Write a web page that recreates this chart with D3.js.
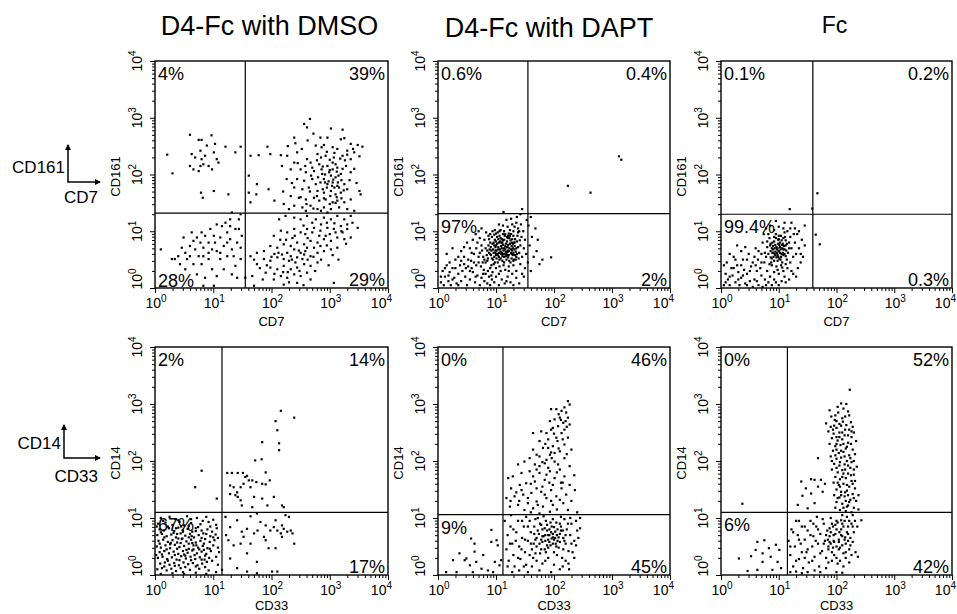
<!DOCTYPE html>
<html>
<head>
<meta charset="utf-8">
<script src="https://cdn.jsdelivr.net/npm/d3@7"></script>
<style>
  body { margin: 0; background: #fff; }
  svg { display: block; font-family: "Liberation Sans", Arial, sans-serif; }
</style>
</head>
<body>
<div id="chart"></div>
<script>
// Column titles and marker labels
const columnTitles = ["D4-Fc with DMSO", "D4-Fc with DAPT", "Fc"];
const rowMarkers = [["CD161", "CD7"], ["CD14", "CD33"]];
const decades = [0, 1, 2, 3, 4];

// Gate positions (in decades) per panel, row-major
const gateX = [1.55, 1.55, 1.59, 1.15, 1.12, 1.15];
const gateY = [1.32, 1.31, 1.30, 1.10, 1.06, 1.10];

// Quadrant percentages: upper-left, upper-right, lower-left, lower-right
const quadrantPct = [
    ["4%", "39%", "28%", "29%"],
    ["0.6%", "0.4%", "97%", "2%"],
    ["0.1%", "0.2%", "99.4%", "0.3%"],
    ["2%", "14%", "67%", "17%"],
    ["0%", "46%", "9%", "45%"],
    ["0%", "52%", "6%", "42%"]
];

// Events as "x,y" pairs, log10 units
const eventsDmsoCd7 = `
0.60,2.70 0.75,2.61 0.80,2.61 0.97,2.69 0.21,2.35 0.30,2.02 0.63,2.36 0.69,2.30 0.80,2.27 0.86,2.33 1.01,2.39 1.06,2.27 1.09,2.21 1.21,2.49 1.47,2.49
1.38,2.39 0.60,2.15 0.66,2.09 0.78,2.15 0.83,2.18 0.92,2.15 0.98,2.09 0.75,2.06 0.79,1.68 0.82,1.59 1.01,1.71 1.26,1.65 1.03,2.54 0.89,2.51 0.78,2.42
1.64,2.33 1.78,2.34 1.61,1.98 1.75,1.83 1.61,1.68 1.74,1.65 1.64,1.51 1.93,2.49 1.98,2.36 2.16,2.34 2.18,2.15 2.05,1.54 1.95,1.74 2.27,2.33 2.33,2.09
2.26,1.92 2.39,2.21 2.44,2.39 2.39,2.65 2.41,2.55 2.56,2.89 2.66,2.98 2.61,2.83 3.02,2.81 3.22,2.79 2.84,2.65 2.96,2.65 3.19,2.62 3.25,2.64 3.36,2.54
3.48,2.52 3.56,2.49 2.76,2.51 2.90,2.52 3.05,2.48 3.13,2.45 3.30,2.42 3.42,2.39 2.79,2.36 2.93,2.33 3.07,2.30 3.22,2.33 3.36,2.27 3.51,2.32 2.61,2.27
2.67,2.21 2.82,2.18 2.96,2.15 3.05,2.09 3.13,2.12 3.28,2.15 2.50,2.09 2.59,2.04 2.73,2.06 2.87,2.01 3.02,1.98 3.10,1.95 3.19,2.01 3.36,2.04 2.44,1.92
2.56,1.89 2.70,1.92 2.84,1.86 2.96,1.83 3.05,1.86 3.13,1.80 3.25,1.83 3.30,1.74 2.39,1.77 2.53,1.74 2.64,1.77 2.79,1.71 2.90,1.68 3.02,1.71 3.10,1.65
3.19,1.68 3.51,1.71 3.53,1.65 2.33,1.62 2.47,1.59 2.59,1.56 2.73,1.59 2.82,1.54 2.93,1.56 3.05,1.51 3.13,1.54 3.25,1.51 3.36,1.56 2.21,1.48 2.39,1.45
2.53,1.42 2.67,1.45 2.79,1.39 2.90,1.42 3.02,1.39 3.16,1.42 3.30,1.39 3.42,1.36 2.30,1.39 2.59,1.36 2.99,2.04 3.06,1.91 2.95,1.77 3.08,1.77 2.90,1.92
3.05,2.21 3.01,1.62 3.16,1.77 2.86,2.09 2.76,1.83 3.00,2.26 3.10,2.18 2.92,2.00 3.15,1.98 2.98,1.88 3.12,1.60 2.88,1.74 3.20,1.90 2.70,2.12 3.26,2.25
2.85,2.30 2.95,2.40 3.08,2.38 3.18,2.28 2.78,2.25 2.88,2.14 3.00,2.08 3.12,2.05 3.22,2.10 2.68,1.98 2.80,1.95 2.92,1.86 3.04,1.80 3.14,1.86 3.24,1.72
2.66,1.70 2.78,1.62 2.90,1.58 3.00,1.48 3.10,1.50 3.20,1.58 2.60,1.48 2.72,1.40 2.85,1.36 2.96,1.33 3.34,1.90 3.42,2.10 3.46,1.85 3.30,2.35 3.40,2.45
2.52,2.45 2.62,2.60 2.72,2.72 2.86,2.48 2.45,2.20 2.35,1.85 2.28,2.50 2.50,1.60 2.58,2.15 2.20,1.70
3.36,1.27 3.48,1.06 3.39,1.15 3.25,1.21 3.13,1.27 3.02,1.21 2.90,1.24 2.76,1.21 2.61,1.27 2.50,1.21 2.39,1.24 2.24,1.27 2.13,1.21 3.30,1.04 3.19,1.09
3.07,1.04 2.96,1.06 2.84,1.01 2.73,1.06 2.61,1.04 2.50,0.98 2.39,1.04 2.27,0.98 2.16,1.01 2.04,0.92 3.36,0.89 3.25,0.86 3.13,0.89 3.02,0.83 2.90,0.86
2.79,0.80 2.67,0.83 2.56,0.77 2.44,0.80 2.33,0.74 2.21,0.77 2.10,0.71 1.98,0.74 1.87,0.65 1.75,0.62 1.64,0.56 3.13,0.71 3.02,0.68 2.90,0.65 2.79,0.62
2.67,0.56 2.56,0.59 2.44,0.54 2.33,0.56 2.21,0.51 2.10,0.54 1.98,0.48 1.87,0.51 1.75,0.42 2.79,0.45 2.67,0.39 2.56,0.42 2.44,0.36 2.33,0.33 2.21,0.39
2.10,0.33 1.98,0.36 1.90,0.27 2.61,0.27 2.50,0.21 2.39,0.24 2.27,0.18 2.16,0.21 2.04,0.15 2.21,0.06 2.44,0.09 2.67,0.15 3.07,0.09 1.67,0.21 1.70,0.04
1.55,0.18 2.50,0.62 2.39,0.68 2.27,0.62 2.61,0.71 2.73,0.71 2.41,0.45 2.53,0.51 2.30,0.48 2.18,0.59 2.84,0.74 2.93,0.92 3.10,0.98 3.22,0.98 3.30,1.12
2.36,0.88 2.47,0.66 2.58,0.95 2.70,0.98 2.15,0.85 2.28,0.28 2.62,0.50 2.85,1.12 3.00,0.95 2.05,0.60
2.55,1.10 2.70,1.15 2.82,0.92 2.95,1.15 3.08,1.14 3.20,1.00 3.28,0.78 2.40,0.92 2.25,0.85 2.12,0.62 2.00,0.55 1.92,0.40 2.35,0.50 2.48,0.30 2.58,0.65
2.72,0.55 2.85,0.50 2.95,0.75 3.05,0.58 2.20,0.28 2.05,0.25 1.85,0.15 2.30,0.10 2.55,0.05 1.80,0.35 1.70,0.50 2.62,0.88 2.75,0.30 2.98,0.40 3.15,0.50
0.10,0.68 0.29,0.51 0.34,0.51 0.49,0.89 0.63,0.98 0.52,0.62 0.60,0.56 0.72,0.89 0.78,0.80 0.83,0.71 0.69,0.68 0.75,0.56 0.86,0.92 0.95,1.04 1.01,0.92
0.92,0.80 0.98,0.68 1.06,1.12 1.15,1.09 1.21,1.15 1.29,1.21 1.38,1.04 1.44,1.21 1.47,1.30 1.32,1.33 1.24,0.98 1.12,0.89 1.29,0.86 1.41,0.80 1.49,0.92
1.18,0.74 1.06,0.65 1.32,0.68 1.47,0.71 1.24,0.56 1.12,0.51 0.92,0.51 0.80,0.42 0.66,0.42 0.52,0.33 0.43,0.42 0.98,0.33 1.18,0.33 1.38,0.39 1.32,0.24
1.06,0.21 0.86,0.18 0.72,0.24 1.01,0.04 0.83,0.04 1.41,0.18 0.60,0.74 0.80,0.98 1.03,0.80 1.24,0.80 0.66,0.83 1.35,0.56 1.47,0.51 1.44,1.04 0.83,0.56
0.55,0.51 0.40,0.56 0.46,0.71 1.29,1.09 1.12,0.62 0.92,0.62`;

const eventsDaptCd7 = `
0.78,0.55 0.82,0.70 0.85,0.48 0.88,0.62 0.90,0.80 0.92,0.40 0.95,0.68 0.97,0.55 1.00,0.75 1.02,0.90 1.03,0.45 1.05,0.62 1.07,0.82 1.08,0.52 1.10,0.70
1.12,0.95 1.13,0.40 1.15,0.60 1.17,0.78 1.18,0.50 1.20,0.88 1.22,0.65 1.24,1.02 1.25,0.45 1.27,0.74 1.29,0.58 1.30,0.92 1.32,0.68 1.34,0.50 1.36,0.82
1.38,1.05 1.40,0.62 1.42,0.75 1.44,0.90 0.80,0.85 0.84,0.58 0.87,0.75 0.93,0.90 0.96,0.42 0.99,0.62 1.01,0.52 1.04,0.72 1.06,1.00 1.09,0.60 1.11,0.48
1.14,0.85 1.16,0.68 1.19,0.58 1.21,0.76 1.23,0.48 1.26,0.95 1.28,0.66 1.31,0.80 1.33,0.58 1.35,0.70 1.37,0.92 1.39,0.52 1.41,0.84 0.72,0.62 0.75,0.75
0.70,0.45 0.74,0.38 0.79,0.32 0.86,0.30 0.94,0.28 1.00,0.35 1.08,0.30 1.16,0.32 1.22,0.38 1.30,0.40 1.35,0.30 1.45,0.55 1.48,0.70 1.50,0.85 1.47,1.00
1.43,1.12 1.35,1.15 1.28,1.12 1.20,1.08 1.12,1.10 1.05,1.12 0.98,1.02 0.90,0.95 0.83,0.98 1.18,1.20 1.26,1.22 1.36,1.25 1.42,1.30 1.13,1.34 1.45,1.39
0.86,0.52 0.89,0.68 0.91,0.58 0.94,0.78 0.96,0.62 0.98,0.85 1.01,0.66 1.03,0.58 1.05,0.80 1.06,0.50 1.08,0.88 1.10,0.62 1.12,0.76 1.14,0.55 1.15,0.92
1.17,0.64 1.19,0.82 1.21,0.54 1.23,0.70 1.25,0.84 1.27,0.60 1.29,0.78 1.31,0.50 1.33,0.86 1.34,0.64 0.92,0.66 0.99,0.72 1.04,0.86 1.09,0.74 1.13,0.66
1.18,0.72 1.22,0.58 1.26,0.68 1.30,0.62 0.95,0.50 1.02,0.60 1.07,0.68 1.11,0.56 1.16,0.74 1.20,0.64 1.24,0.78 1.28,0.86 1.32,0.74 0.88,0.86 0.97,0.94
1.06,0.92 1.14,1.00 1.22,0.96 1.30,1.00 1.38,0.98 0.91,0.72 1.00,0.58 1.09,0.80 1.18,0.62 1.27,0.52 1.36,0.60 1.03,0.98 1.12,0.84 1.21,0.92 0.85,0.66
0.90,0.60 0.93,0.52 0.96,0.80 0.99,0.66 1.02,0.78 1.05,0.55 1.08,0.64 1.11,0.80 1.14,0.70 1.17,0.56 1.20,0.72 1.23,0.88 1.26,0.62 1.29,0.70 1.32,0.80
1.35,0.55 1.38,0.72 0.87,0.92 0.94,1.00 1.00,0.96 1.08,1.02 1.16,0.95 1.24,0.92 1.32,1.08 1.40,1.00 0.82,0.45 0.90,0.35 0.98,0.45 1.06,0.38 1.14,0.45
1.22,0.30 1.30,0.48 1.42,0.42 0.76,0.66 0.80,0.50 0.72,0.88 0.66,0.70 0.62,0.45 0.58,0.62 0.52,0.50 0.48,0.35 0.40,0.48 0.30,0.35 0.20,0.45 0.12,0.35
0.25,0.15 0.35,0.05 0.55,0.30 0.65,0.20 0.78,0.25 0.92,0.22 1.05,0.25 1.18,0.12 1.28,0.25 1.45,0.25 0.05,0.20 0.18,0.22 0.45,0.42 1.00,0.82 1.04,0.68
1.12,0.60 1.19,0.90 1.27,0.80 0.97,0.75 1.10,0.86 1.21,0.66
0.05,0.10 0.08,0.30 0.10,0.05 0.12,0.20 0.15,0.40 0.18,0.12 0.20,0.28 0.22,0.05 0.25,0.35 0.28,0.18 0.30,0.50 0.32,0.08 0.35,0.25 0.38,0.40 0.40,0.12
0.42,0.30 0.45,0.55 0.47,0.20 0.50,0.05 0.52,0.38 0.55,0.15 0.57,0.48 0.60,0.28 0.62,0.60 0.64,0.10 0.66,0.40 0.68,0.22 0.70,0.55 0.72,0.05 0.75,0.18
0.77,0.45 0.80,0.12 0.82,0.25 0.85,0.08 0.88,0.20 0.90,0.05 0.93,0.15 0.97,0.10 1.00,0.20 1.05,0.05 1.10,0.15 1.15,0.08 1.20,0.20 1.25,0.10 1.30,0.05
1.35,0.18 1.40,0.08 0.15,0.60 0.25,0.70 0.40,0.65 0.50,0.80 0.60,0.85 0.55,0.70 0.45,0.72 0.35,0.55 0.65,0.95 0.70,1.00 0.75,1.05 0.68,0.80 0.58,0.35
1.52,0.60 1.55,0.45 1.58,0.75 1.60,0.30 1.62,0.90 1.65,0.55 1.68,1.05 1.70,0.65 1.75,0.42 1.72,0.85 1.80,0.50 1.95,0.54 1.56,1.10 1.60,1.25 1.53,1.20
1.50,0.35 1.48,0.20 2.24,1.80 2.63,1.68 3.12,2.32 3.16,2.26`;

const eventsFcCd7 = `
0.82,0.60 0.85,0.75 0.88,0.52 0.90,0.68 0.92,0.82 0.94,0.58 0.96,0.72 0.98,0.48 1.00,0.65 1.02,0.80 1.04,0.55 1.06,0.70 1.08,0.88 1.10,0.60 1.12,0.75
1.14,0.50 0.86,0.65 0.89,0.80 0.91,0.55 0.93,0.70 0.95,0.88 0.97,0.62 0.99,0.78 1.01,0.52 1.03,0.68 1.05,0.84 1.07,0.62 1.09,0.74 1.11,0.90 1.13,0.66
0.84,0.88 0.87,0.45 0.95,0.95 1.00,0.92 1.06,0.45 1.10,0.98 0.80,0.72 0.78,0.55 1.16,0.62 1.18,0.80 0.98,0.58 1.02,0.72 0.94,0.64 1.05,0.60 0.90,0.74
1.08,0.68 0.99,0.85 0.92,0.48 1.04,0.40 0.96,0.38 0.88,0.40 0.97,0.68 1.01,0.76 0.93,0.60 1.07,0.78 0.89,0.62 1.03,0.50 1.12,0.84 0.86,0.78 0.99,0.55
0.94,0.76 0.98,0.70 1.02,0.62 1.06,0.76 1.10,0.68 0.90,0.62 0.96,0.54 1.00,0.86 1.04,0.92 1.08,0.58 0.92,0.90 0.88,0.70 1.12,0.56 1.14,0.78 0.86,0.54
0.84,0.42 0.98,0.32 1.06,0.36 1.12,0.42 0.80,0.82 0.76,0.62 1.18,0.70 1.20,1.05 1.10,1.15 0.95,1.18 0.82,0.95 0.70,0.45 0.65,0.65 0.60,0.40 0.58,0.55
0.50,0.30 0.45,0.50 0.38,0.22 0.30,0.15 0.22,0.35 0.15,0.20 0.08,0.10 0.25,0.50 0.35,0.40 0.62,0.12 0.78,0.05 0.92,0.15 1.00,0.05 1.10,0.20 1.22,0.30
1.30,0.20 1.38,0.60 1.26,0.95 1.35,1.00 1.45,1.10
0.70,0.60 0.72,0.80 0.75,0.45 0.68,0.35 0.74,0.95 0.78,1.05 0.85,1.10 0.92,1.02 1.00,1.08 1.08,1.05 1.15,1.00 1.20,0.90 1.22,0.70 1.25,0.55 1.20,0.45
1.15,0.35 1.08,0.30 1.00,0.25 0.92,0.28 0.85,0.20 0.80,0.30 0.76,0.15 0.70,0.22 0.64,0.50 0.60,0.70 0.62,0.30 0.55,0.45 0.58,0.15 1.28,0.80 1.30,0.60
1.32,0.95 1.35,0.70 1.28,1.05 1.22,1.15 1.40,0.85 1.42,0.55 1.45,0.75 1.38,0.45 1.33,0.35 1.25,0.25 1.18,0.15 1.12,0.10 1.05,0.12 0.95,0.10 0.88,0.05
0.82,0.10 0.05,0.05 0.08,0.25 0.10,0.45 0.12,0.15 0.15,0.05 0.18,0.35 0.20,0.22 0.22,0.55 0.25,0.10 0.28,0.40 0.30,0.28 0.32,0.05 0.35,0.18 0.38,0.50
0.40,0.32 0.42,0.08 0.45,0.25 0.48,0.60 0.50,0.12 0.52,0.38 0.35,0.65 0.28,0.75 0.42,0.72 0.45,0.05 0.55,0.02 0.65,0.05 0.72,0.02 0.15,0.60 0.05,0.40
1.67,1.67 1.64,0.94 1.71,0.77 1.19,1.39 1.58,1.40`;

const eventsDmsoCd33 = `
0.10,1.00 0.25,1.02 0.35,0.98 0.55,1.03 0.72,1.00 0.88,1.02 1.00,0.97 0.05,0.90 0.18,0.92 0.30,0.88 0.42,0.93 0.50,0.87 0.62,0.91 0.78,0.89 0.92,0.93
1.05,0.88 0.08,0.80 0.15,0.78 0.24,0.82 0.33,0.77 0.40,0.83 0.48,0.79 0.56,0.81 0.64,0.76 0.70,0.82 0.80,0.78 0.90,0.80 0.98,0.76 1.06,0.82 0.04,0.70
0.12,0.72 0.20,0.68 0.28,0.71 0.36,0.66 0.44,0.73 0.52,0.69 0.60,0.72 0.67,0.66 0.75,0.70 0.83,0.73 0.95,0.68 1.04,0.71 0.06,0.60 0.14,0.62 0.22,0.58
0.30,0.61 0.38,0.57 0.46,0.63 0.54,0.59 0.62,0.62 0.70,0.57 0.78,0.60 0.86,0.63 0.94,0.58 1.02,0.61 0.03,0.50 0.10,0.48 0.18,0.52 0.26,0.47 0.34,0.53
0.42,0.49 0.50,0.51 0.58,0.46 0.66,0.52 0.74,0.48 0.82,0.51 0.90,0.47 1.00,0.52 1.08,0.48 0.08,0.40 0.16,0.42 0.24,0.38 0.32,0.41 0.40,0.37 0.48,0.42
0.56,0.39 0.64,0.43 0.72,0.38 0.80,0.41 0.88,0.37 0.96,0.42 0.05,0.30 0.13,0.32 0.21,0.28 0.29,0.31 0.37,0.27 0.45,0.33 0.53,0.29 0.61,0.32 0.69,0.28
0.77,0.31 0.85,0.27 0.93,0.30 1.05,0.32 0.09,0.20 0.17,0.22 0.25,0.18 0.33,0.21 0.41,0.17 0.49,0.22 0.57,0.19 0.65,0.21 0.73,0.17 0.81,0.20 0.89,0.23
1.08,0.18 0.04,0.10 0.12,0.12 0.20,0.08 0.28,0.11 0.36,0.07 0.44,0.12 0.60,0.09 0.76,0.11 0.92,0.08 1.05,0.05 0.10,0.02 0.30,0.03 0.50,0.02 0.70,0.04
0.88,0.02 0.47,0.64 0.58,0.55 0.66,0.45 0.38,0.72 0.52,0.34 0.71,0.52 0.27,0.56 0.84,0.44 0.63,0.68 0.45,0.85
0.14,0.95 0.40,0.96 0.62,0.98 0.82,0.95 0.22,0.85 0.36,0.82 0.58,0.86 0.74,0.84 0.95,0.85 0.10,0.75 0.32,0.74 0.48,0.76 0.70,0.77 0.88,0.72 0.16,0.66
0.40,0.64 0.58,0.66 0.80,0.65 1.00,0.66 0.08,0.55 0.26,0.54 0.44,0.56 0.64,0.56 0.84,0.55 0.20,0.45 0.38,0.46 0.54,0.44 0.76,0.45 0.94,0.46 0.12,0.36
0.34,0.35 0.50,0.36 0.68,0.35 0.86,0.34 0.22,0.25 0.42,0.26 0.62,0.26 0.80,0.27 0.98,0.25 0.16,0.15 0.34,0.16 0.52,0.14 0.70,0.15 0.86,0.14 0.02,0.35
0.03,0.85 1.08,0.65 1.10,0.40 0.48,0.05
0.80,1.83 0.69,1.54 1.06,1.34
2.16,2.88 2.39,2.76 2.07,2.70 2.10,2.54 1.84,2.33 2.13,2.31 2.13,2.19 1.72,2.01 1.83,2.03 1.90,1.80 1.24,1.79 1.32,1.79 1.42,1.79 1.51,1.79 1.58,1.74
1.61,1.66 1.52,1.60 1.67,1.66 1.74,1.63 1.47,1.54 1.35,1.54 1.41,1.45 1.64,1.54 1.84,1.60 1.90,1.59 1.97,1.66 1.38,1.40 1.47,1.31 1.70,1.37 1.84,1.34
2.04,1.37 1.67,1.19 1.93,1.22 2.18,1.22 2.21,1.19 1.29,1.57 1.49,1.22 1.55,1.72 1.42,1.37 1.29,1.42
1.21,1.02 1.29,0.84 1.22,0.70 1.41,0.96 1.49,0.76 1.58,0.81 1.64,1.03 1.70,0.73 1.75,1.08 1.76,0.78 1.87,0.67 1.90,0.87 1.98,0.78 2.04,0.84 2.07,0.96
2.10,0.78 2.16,0.73 2.18,0.87 2.21,0.81 2.24,1.05 2.27,0.76 2.30,1.02 2.33,0.78 2.36,0.73 2.39,0.55 1.26,0.61 1.35,0.52 1.47,0.55 1.58,0.38 1.64,0.55
1.75,0.23 1.90,0.61 1.95,0.47 2.07,0.47 1.29,0.29 1.41,0.12 2.01,0.06 2.10,0.06 1.15,0.09 1.52,0.67 1.81,0.93 2.18,0.67 1.58,0.06 1.75,0.03`;

const eventsDaptCd33 = `
0.26,0.26 0.37,0.38 0.46,0.26 0.49,0.29 0.57,0.64 0.63,0.55 0.63,0.41 0.66,0.23 0.78,0.35 0.86,0.08 0.92,0.79 0.92,0.58 1.01,0.61 1.03,0.52 0.98,0.23
1.09,0.26 1.06,0.17 0.75,0.11 0.55,0.17 0.60,0.05 0.95,0.05 0.14,0.05 0.32,0.05
2.24,3.05 2.27,2.99 2.18,2.94 2.21,2.85 2.13,2.88 2.04,2.91 1.95,2.91 2.10,2.76 2.24,2.76 2.01,2.73 1.93,2.70 2.16,2.67 2.27,2.64 2.07,2.61 1.95,2.55
1.87,2.49 1.64,2.49 1.78,2.52 2.13,2.49 2.24,2.41 2.04,2.41 1.90,2.38 1.75,2.35 2.18,2.29 1.98,2.26 1.81,2.23 1.64,2.20 2.30,2.20 2.10,2.17 1.93,2.11
1.75,2.08 1.58,2.05 2.18,2.05 2.01,1.99 1.84,1.96 1.67,1.94 1.49,1.99 1.38,1.94 2.27,1.91 2.10,1.85 1.93,1.82 1.75,1.79 1.58,1.82 1.44,1.79 1.29,1.73
1.21,1.70 2.18,1.73 2.01,1.70 1.84,1.67 1.67,1.64 1.52,1.61 1.41,1.58 1.26,1.52 2.27,1.58 2.36,1.49 2.13,1.52 1.95,1.49 1.78,1.46 1.61,1.44 1.47,1.41
1.32,1.38 1.18,1.35 2.21,1.41 2.04,1.38 1.87,1.35 1.70,1.29 1.55,1.26 1.38,1.23 1.24,1.20 2.16,1.26 1.98,1.23 1.81,1.20 1.64,1.17 1.49,1.14 2.24,1.14
1.93,1.11 1.75,1.08 1.26,1.05 1.98,2.58 2.18,2.55 1.90,2.23 2.01,2.14 1.70,2.11 1.87,2.02 1.75,1.91 2.07,1.94 1.90,1.88 1.64,1.73 1.87,1.76 1.98,1.58
1.70,1.52 1.84,1.41 1.55,1.35 2.10,1.32 1.72,1.23 1.44,1.49 2.08,2.82 2.20,2.70 2.06,2.35 1.96,2.05 2.12,1.62
2.12,2.72 2.22,2.60 2.00,2.48 2.15,2.38 1.85,2.30 2.08,2.22 1.95,2.15 2.22,2.12 1.80,1.98 2.05,1.80 1.70,1.85 2.15,1.62 1.92,1.62 1.60,1.60 1.35,1.45
2.30,1.30 1.95,1.30 1.40,1.30 1.60,1.10 2.05,1.15 1.25,1.30 2.35,1.75 1.80,1.55 2.40,1.10
1.15,0.95 1.20,0.70 1.18,0.45 1.22,0.25 1.25,0.85 1.28,0.55 1.30,0.35 1.32,0.15 1.35,0.75 1.38,0.95 1.40,0.50 1.42,0.28 1.45,0.65 1.48,0.85 1.50,0.40
1.52,0.18 1.55,0.60 1.58,0.95 1.60,0.75 1.62,0.45 1.64,0.30 1.66,0.85 1.68,0.62 1.70,0.50 1.72,1.00 1.74,0.72 1.76,0.38 1.78,0.88 1.80,0.58 1.82,0.68
1.84,0.45 1.86,0.95 1.88,0.78 1.90,0.62 1.92,0.70 1.94,0.52 1.96,0.85 1.98,0.66 2.00,0.40 2.02,0.76 2.04,0.92 2.06,0.60 2.08,0.48 2.10,0.72 2.12,0.85
2.14,0.30 2.16,0.65 2.18,0.98 2.20,0.55 2.22,0.80 2.25,0.42 2.28,0.70 2.30,0.90 2.35,0.60 2.40,0.78 2.45,0.82 1.70,0.65 1.75,0.55 1.80,0.80 1.85,0.70
1.90,0.48 1.95,0.75 2.00,0.62 2.05,0.70 2.10,0.58 2.15,0.78 1.85,0.60 1.92,0.58 1.98,0.72 2.03,0.55 1.88,0.88 1.78,0.45 1.65,0.55 1.58,0.35 1.62,0.15
1.70,0.25 1.80,0.20 1.90,0.30 2.00,0.18 2.10,0.10 2.20,0.25 2.15,0.15 1.95,0.05 1.75,0.08 1.55,0.05 1.40,0.08 1.28,0.05 2.05,0.35 2.25,0.20 2.32,0.40
2.38,0.52 1.45,0.95 1.52,1.02 1.68,0.98 1.82,1.03 1.98,0.98 2.12,1.02 2.28,1.00 2.45,1.00 2.38,0.95
1.72,0.78 1.78,0.62 1.84,0.82 1.88,0.52 1.92,0.80 1.96,0.64 2.00,0.84 2.04,0.50 2.08,0.66 2.12,0.78 2.16,0.45 2.20,0.70 2.24,0.90 1.86,0.40 1.94,0.92
2.02,0.65 2.10,0.90 2.18,0.60 1.80,0.68 1.90,0.70 1.98,0.55 2.06,0.80 1.76,0.90 1.66,0.72 1.60,0.55 1.55,0.85 1.50,0.62 1.44,0.45 1.38,0.30 1.34,0.60
1.30,0.80 1.24,0.55 1.20,0.15 1.48,0.15 1.68,0.38 2.30,0.55 2.35,0.30 2.42,0.65 2.26,0.10 1.85,0.25`;

const eventsFcCd33 = `
0.37,1.25 0.31,0.29 0.52,0.33 0.63,0.58 0.75,0.61 0.60,0.44 0.72,0.38 0.83,0.47 0.86,0.32 0.95,0.53 1.01,0.44 0.98,0.23 0.63,0.09 0.46,0.07 0.72,0.23
0.89,0.09 1.04,0.12
2.23,3.25 2.08,3.01 2.17,3.00 1.88,2.89 2.20,2.87 2.03,2.85 1.91,2.78 1.97,2.72 1.82,2.66 2.11,2.69 2.17,2.63 2.25,2.68 1.90,2.60 2.00,2.58 2.08,2.62
2.22,2.55 2.30,2.50 1.86,2.52 1.95,2.48 2.05,2.50 2.14,2.45 2.26,2.42 1.92,2.40 2.02,2.36 2.10,2.38 2.20,2.32 2.34,2.35 1.88,2.30 1.98,2.26 2.07,2.28
2.16,2.22 2.28,2.20 1.94,2.18 2.04,2.14 2.12,2.16 2.22,2.10 2.32,2.12 1.90,2.08 2.00,2.04 2.08,2.06 2.18,2.00 2.26,1.98 1.96,1.95 2.05,1.92 2.14,1.94
2.24,1.88 2.35,1.90 1.92,1.85 2.02,1.80 2.10,1.84 2.20,1.78 2.30,1.76 1.98,1.72 2.06,1.68 2.16,1.70 2.26,1.65 1.95,1.62 2.04,1.58 2.12,1.60 2.22,1.55
2.32,1.52 2.00,1.50 2.08,1.46 2.18,1.48 2.28,1.42 1.96,1.40 2.05,1.36 2.14,1.38 2.24,1.32 2.34,1.30 2.00,1.28 2.10,1.25 2.20,1.22 2.30,1.18 1.98,1.18
2.06,1.14 2.16,1.12 2.26,1.10 2.38,1.15 1.68,2.05 1.80,1.60 2.00,2.70 2.10,2.75 2.15,2.55 2.05,2.42 2.12,2.30 2.00,2.20 2.18,2.25 2.06,1.98 2.15,1.85
2.10,1.72 2.02,1.62 2.18,1.58 2.08,1.40 2.16,1.30 2.22,2.80 1.94,2.55 2.28,2.60 2.24,2.05 2.28,1.60 2.38,1.40
2.02,2.95 2.12,2.92 2.15,2.78 2.05,2.65 1.96,2.62 2.20,2.45 2.10,2.50 2.00,2.42 2.25,2.30 2.08,2.18 1.98,2.10 2.14,2.08 2.20,1.92 2.00,1.88 2.12,1.78
2.25,1.75 2.06,1.55 2.15,1.45 2.02,1.35 2.20,1.40 2.12,1.18 2.22,1.28 2.30,1.35 2.10,1.05 2.00,2.30 1.92,2.00 2.30,2.00 2.30,1.85 2.26,2.52 1.98,2.80
2.32,1.65 2.18,1.20
1.39,1.64 1.47,1.52 1.41,1.39 1.56,1.43 1.62,1.67 1.68,1.55 1.73,1.67 1.76,1.46 1.33,1.23 1.50,1.17 1.62,1.26 1.56,1.68
1.17,0.60 1.20,0.35 1.22,0.80 1.25,0.15 1.28,0.50 1.30,0.95 1.33,0.70 1.35,0.28 1.38,0.55 1.40,0.85 1.42,0.12 1.45,0.62 1.48,0.40 1.50,0.78 1.52,0.22
1.55,0.95 1.58,0.50 1.60,0.68 1.62,0.32 1.65,0.85 1.68,0.55 1.70,0.15 1.72,0.72 1.75,0.42 1.78,0.90 1.80,0.60 1.82,0.30 1.84,0.78 1.86,0.50 1.88,0.68
1.90,1.00 1.92,0.40 1.94,0.85 1.96,0.58 1.98,0.72 2.00,0.30 2.02,0.92 2.04,0.62 2.06,0.48 2.08,0.80 2.10,0.68 2.12,0.38 2.14,0.95 2.16,0.55 2.18,0.75
2.20,0.85 2.22,0.45 2.24,0.65 2.26,0.90 2.28,0.58 2.30,0.75 2.33,0.40 2.36,0.85 2.43,0.96 2.37,0.32 1.85,0.62 1.90,0.55 1.95,0.70 2.00,0.50 2.05,0.75
2.10,0.52 2.15,0.66 2.20,0.60 1.88,0.82 1.98,0.88 2.08,0.96 2.18,1.02 1.92,0.25 2.02,0.20 2.12,0.15 2.22,0.22 1.82,0.12 1.72,0.05 1.62,0.08 1.50,0.05
1.40,0.03 1.30,0.06 1.20,0.05 2.00,0.05 2.10,0.04 1.76,0.98 1.66,1.02 2.28,1.05 2.32,0.95 1.60,0.90 1.45,0.30 1.35,0.95
1.90,0.75 1.95,0.60 2.00,0.80 2.04,0.45 2.08,0.70 2.12,0.85 2.16,0.40 2.20,0.72 2.24,0.52 2.28,0.85 1.86,0.45 1.82,0.70 1.78,0.55 1.72,0.38 1.68,0.80
1.64,0.60 1.58,0.25 1.55,0.70 1.50,0.45 1.45,0.85 1.40,0.40 1.35,0.62 1.30,0.25 1.25,0.75 1.20,0.50 2.06,0.25 2.16,0.30 2.26,0.35 1.96,0.35 1.86,0.22
2.10,0.90 2.00,0.95 1.92,0.90 2.22,0.95 2.14,0.62 2.04,0.58 1.94,0.48 1.88,0.58`;

const panelEvents = [eventsDmsoCd7, eventsDaptCd7, eventsFcCd7, eventsDmsoCd33, eventsDaptCd33, eventsFcCd33];
// where the lower-left percentage sits: at the bottom, or just under the gate
const lowerLeftAt = ["bottom", "gate", "gate", "gate", "gate", "gate"];

function parseEvents(s) {
    return s.trim().split(/\s+/).map(p => p.split(",").map(Number));
}

// Layout
const width = 957, height = 614;
const colLeft = [155, 438, 721];
const colWidth = [233, 232, 231];
const rowTop = [61, 347];
const rowBottom = [288, 575];
const markerArrowY = [182, 458];

const svg = d3.select("#chart").append("svg")
    .attr("width", width)
    .attr("height", height);

svg.append("rect").attr("width", width).attr("height", height).attr("fill", "#fff");

// Column titles
const titleY = [35, 37, 33];
const titleSize = [27, 27, 23];
columnTitles.forEach((t, c) => {
    svg.append("text")
        .attr("x", colLeft[c] + colWidth[c] / 2 - (c === 1 ? 5 : 2))
        .attr("y", titleY[c])
        .attr("text-anchor", "middle")
        .style("font-size", titleSize[c] + "px")
        .attr("fill", "#000")
        .text(t);
});

// Row markers (axis key with arrows)
rowMarkers.forEach((m, r) => {
    const ay = markerArrowY[r];
    const ax = r === 0 ? 68 : 64;
    const top = r === 0 ? ay - 37 : ay - 33;
    const g = svg.append("g");
    g.append("path")
        .attr("d", `M${ax},${top} V${ay} H100`)
        .attr("fill", "none").attr("stroke", "#000").attr("stroke-width", 1.5);
    g.append("path")
        .attr("d", `M${ax - 3},${top + 5} L${ax},${top - 1} L${ax + 3},${top + 5} Z`)
        .attr("fill", "#000");
    g.append("path")
        .attr("d", `M95,${ay - 3} L101,${ay} L95,${ay + 3} Z`)
        .attr("fill", "#000");
    g.append("text")
        .attr("x", ax - 3).attr("y", ay - 9)
        .attr("text-anchor", "end")
        .style("font-size", "17px")
        .text(m[0]);
    g.append("text")
        .attr("x", 98).attr("y", ay + (r === 0 ? 21 : 24))
        .attr("text-anchor", "end")
        .style("font-size", "17px")
        .text(m[1]);
});

const minorTicks = [];
for (let d = 0; d < 4; d++) {
    for (let k = 2; k <= 9; k++) minorTicks.push(k * Math.pow(10, d));
}
const majorTicks = decades.map(d => Math.pow(10, d));

function powerLabel(sel, exp) {
    sel.append("tspan").text("10");
    sel.append("tspan")
        .attr("dy", -6)
        .style("font-size", "10px")
        .text(exp);
}

panelEvents.forEach((raw, i) => {
    const r = Math.floor(i / 3), c = i % 3;
    const x0 = colLeft[c], x1 = colLeft[c] + colWidth[c];
    const y0 = rowTop[r], y1 = rowBottom[r];

    const x = d3.scaleLog().domain([1, 1e4]).range([x0, x1]);
    const y = d3.scaleLog().domain([1, 1e4]).range([y1, y0]);
    const events = parseEvents(raw);

    const g = svg.append("g");

    // axes with log ticks
    [[minorTicks, 3], [majorTicks, 5]].forEach(([vals, size]) => {
        const ax = g.append("g")
            .attr("transform", `translate(0,${y1})`)
            .call(d3.axisBottom(x).tickValues(vals).tickSize(size).tickFormat(""));
        ax.select(".domain").remove();
        ax.selectAll("line").attr("stroke", "#000");
        const ay = g.append("g")
            .attr("transform", `translate(${x0},0)`)
            .call(d3.axisLeft(y).tickValues(vals).tickSize(size).tickFormat(""));
        ay.select(".domain").remove();
        ay.selectAll("line").attr("stroke", "#000");
    });

    // tick labels
    decades.forEach(d => {
        const last = d === 4;
        const xl = g.append("text")
            .attr("x", last ? x1 + 4 : x(Math.pow(10, d)) + 1)
            .attr("y", y1 + 20)
            .attr("text-anchor", last ? "end" : "middle")
            .style("font-size", "14px");
        powerLabel(xl, d);
        const yl = g.append("text")
            .attr("transform", `translate(${x0 - 13},${y(Math.pow(10, d)) - (d === 0 ? 9 : 0)}) rotate(-90)`)
            .attr("text-anchor", "middle")
            .style("font-size", "14px");
        powerLabel(yl, d);
    });

    // axis titles
    const names = rowMarkers[r];
    g.append("text")
        .attr("x", (x0 + x1) / 2)
        .attr("y", y1 + (r === 0 ? 38 : 35))
        .attr("text-anchor", "middle")
        .style("font-size", "13px")
        .text(names[1]);
    g.append("text")
        .attr("transform", `translate(${x0 - 35},${(y0 + y1) / 2 + 2}) rotate(-90)`)
        .attr("text-anchor", "middle")
        .style("font-size", "13px")
        .text(names[0]);

    // events
    g.selectAll("rect.ev")
        .data(events)
        .join("rect")
        .attr("class", "ev")
        .attr("x", d => x(Math.pow(10, d[0])) - 1.1)
        .attr("y", d => y(Math.pow(10, d[1])) - 1.1)
        .attr("width", 2.2)
        .attr("height", 2.2)
        .attr("fill", "#000");

    // quadrant gates
    const gx = x(Math.pow(10, gateX[i])), gy = y(Math.pow(10, gateY[i]));
    g.append("line").attr("x1", gx).attr("x2", gx).attr("y1", y0).attr("y2", y1)
        .attr("stroke", "#000").attr("stroke-width", 1.2);
    g.append("line").attr("x1", x0).attr("x2", x1).attr("y1", gy).attr("y2", gy)
        .attr("stroke", "#000").attr("stroke-width", 1.2);

    // frame
    g.append("rect")
        .attr("x", x0).attr("y", y0)
        .attr("width", x1 - x0).attr("height", y1 - y0)
        .attr("fill", "none")
        .attr("stroke", "#000")
        .attr("stroke-width", 1.4);

    // quadrant percentages
    const pct = quadrantPct[i];
    const label = (tx, ty, anchor, t) => g.append("text")
        .attr("x", tx).attr("y", ty)
        .attr("text-anchor", anchor)
        .style("font-size", "18px")
        .text(t);
    label(x0 + 3, y0 + 19, "start", pct[0]);
    label(x1 - 3, y0 + 19, "end", pct[1]);
    label(x0 + 3, lowerLeftAt[i] === "bottom" ? y1 - 1 : gy + 19, "start", pct[2]);
    label(x1 - 3, y1 - 2, "end", pct[3]);
});
</script>
</body>
</html>
